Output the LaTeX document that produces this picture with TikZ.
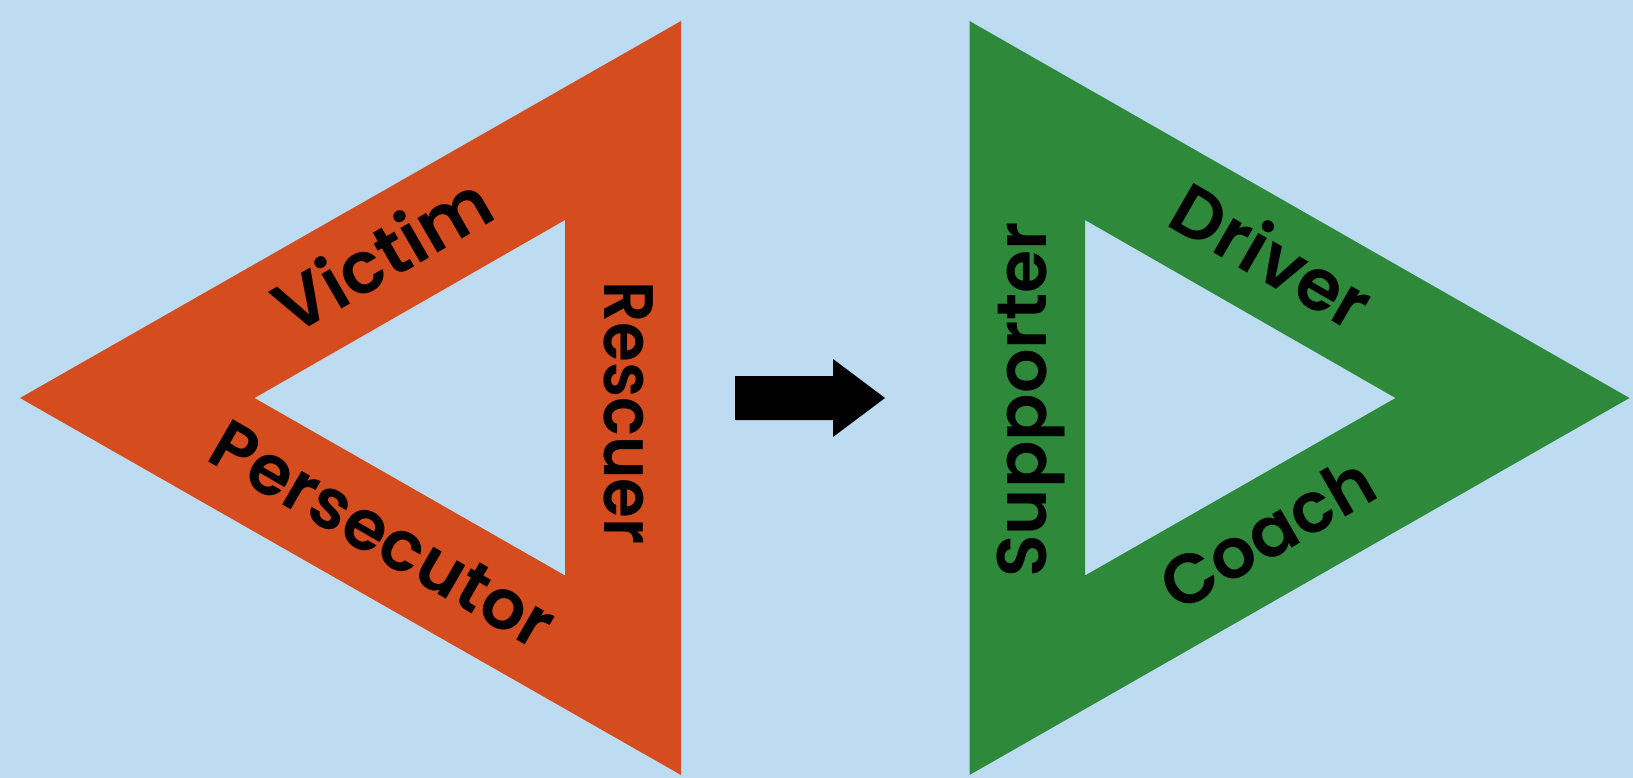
\documentclass[tikz,border=0pt]{standalone}
\usepackage{fontspec}
\setmainfont{Poppins}[UprightFont={* SemiBold}]
\definecolor{bg}{RGB}{189,220,242}
\definecolor{drama}{RGB}{213,76,30}
\definecolor{empower}{RGB}{47,137,58}
\begin{document}
\begin{tikzpicture}[x=1pt,y=-1pt,
  lbl/.style={inner sep=0pt, font=\fontsize{#1}{#1}\selectfont, text=black}]
\fill[bg] (0,0) rectangle (1633,778);
\useasboundingbox (0,0) rectangle (1633,778);
% left (drama) triangle
\fill[drama, even odd rule] (681,21) -- (681,775) -- (20,398) -- cycle
  (565,220) -- (565,575.5) -- (254.5,398) -- cycle;
% right (empowerment) triangle
\fill[empower, even odd rule] (969.5,21) -- (969.5,775) -- (1629.5,398) -- cycle
  (1085,220) -- (1085,575.5) -- (1395.5,398) -- cycle;
% arrow
\fill[black] (735,376) -- (833,376) -- (833,359) -- (885,398) -- (833,437) -- (833,420) -- (735,420) -- cycle;
% labels
\node[lbl=72, rotate=30] (victim) at (382,253) {Victim};
\node[lbl=70, rotate=-90, xscale=0.92] (rescuer) at (629,413) {Rescuer};
\node[lbl=70, rotate=-30] (persecutor) at (383,535) {Persecutor};
\node[lbl=70, rotate=90] (supporter) at (1031,400) {Supporter};
\node[lbl=72, rotate=-30] (driver) at (1273,255) {Driver};
\node[lbl=70, rotate=30] (coach) at (1267,533) {Coach};
\end{tikzpicture}
\end{document}
